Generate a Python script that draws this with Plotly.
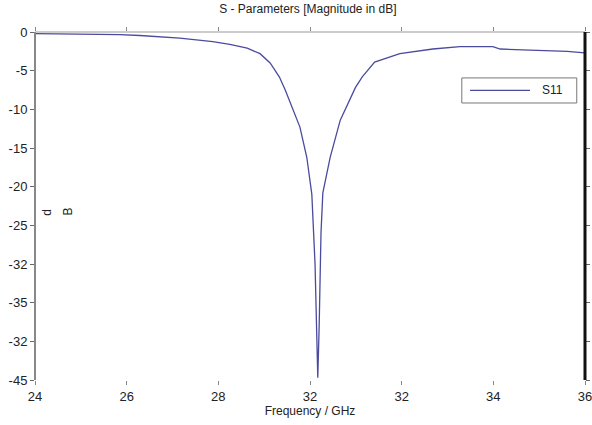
import plotly.graph_objects as go

# Frequency (GHz) and S11 magnitude (dB)
freq_ghz = [24.0, 24.98, 25.85, 26.29, 27.16, 27.88, 28.25, 28.63, 28.91, 29.13,
            29.33, 29.46, 29.78, 29.93, 30.04, 30.11, 30.15, 30.17, 30.20, 30.24,
            30.28, 30.44, 30.66, 30.99, 31.14, 31.41, 31.96, 32.68, 33.27, 33.99,
            34.15, 34.87, 35.61, 36.0]
s11_db = [-0.2, -0.25, -0.35, -0.45, -0.8, -1.25, -1.6, -2.1, -2.8, -4.0,
          -5.8, -7.5, -12.3, -16.2, -21.0, -30.0, -38.0, -44.7, -38.0, -26.0,
          -20.8, -16.2, -11.4, -7.2, -5.8, -3.9, -2.8, -2.2, -1.9, -1.9,
          -2.2, -2.3, -2.5, -2.7]
series_name = "S11"

x_tickvals = [24, 26, 28, 30, 32, 34, 36]
x_ticktext = ["24", "26", "28", "32", "32", "34", "36"]
y_tickvals = [0, -5, -10, -15, -20, -25, -30, -35, -40, -45]
y_ticktext = ["0", "-5", "-10", "-15", "-20", "-25", "-32", "-35", "-32", "-45"]

LINE = "#4b4b9e"
FONT = "Liberation Sans, Arial, sans-serif"

fig = go.Figure()
fig.add_trace(go.Scatter(x=freq_ghz, y=s11_db, mode="lines", name=series_name,
                         line=dict(color=LINE, width=1.3), showlegend=False))

fig.update_layout(
    width=592, height=425,
    margin=dict(l=35, r=7, t=32, b=45, autoexpand=False),
    paper_bgcolor="white", plot_bgcolor="white",
    font=dict(family=FONT, size=12, color="#222"),
    title=dict(text="S - Parameters [Magnitude in dB]", x=0.52, xanchor="center",
               y=0.99, yanchor="top", font=dict(size=12, color="#222")),
    showlegend=False,
    xaxis=dict(range=[24, 36], tickvals=x_tickvals, ticktext=x_ticktext,
               showgrid=False, zeroline=False, showline=False, automargin=False,
               ticks="outside", ticklen=4, tickcolor="#888", mirror="ticks",
               ticklabeloverflow="allow",
               tickfont=dict(size=13, color="#222"),
               title=dict(text="Frequency / GHz", font=dict(size=12, color="#222"),
                          standoff=0)),
    yaxis=dict(range=[-45, 0], tickvals=y_tickvals, ticktext=y_ticktext,
               showgrid=False, zeroline=False, showline=False, automargin=False,
               ticks="outside", ticklen=4, tickcolor="#666", mirror="ticks",
               tickfont=dict(size=13, color="#222")),
    shapes=[
        dict(type="line", xref="paper", yref="paper", x0=0, x1=0, y0=0, y1=1,
             line=dict(color="#888", width=2)),
        dict(type="line", xref="paper", yref="paper", x0=0, x1=1, y0=1, y1=1,
             line=dict(color="#999", width=1)),
        dict(type="line", xref="paper", yref="paper", x0=1, x1=1, y0=0, y1=1,
             line=dict(color="#111", width=3)),
        # legend box
        dict(type="rect", xref="paper", yref="paper", x0=0.776, x1=0.985,
             y0=0.796, y1=0.868, fillcolor="white",
             line=dict(color="#777", width=1)),
        dict(type="line", xref="paper", yref="paper", x0=0.791, x1=0.9,
             y0=0.832, y1=0.832, line=dict(color=LINE, width=1.3)),
    ],
    annotations=[
        dict(text=series_name, xref="paper", yref="paper", x=0.918, y=0.832,
             xanchor="left", yanchor="middle",
             showarrow=False, font=dict(size=12, color="#222")),
        dict(text="d", xref="paper", yref="paper", x=0.005, y=0.483,
             showarrow=False, textangle=-90, font=dict(size=12, color="#222")),
        dict(text="B", xref="paper", yref="paper", x=0.043, y=0.483,
             showarrow=False, textangle=-90, font=dict(size=12, color="#222")),
    ],
)

fig.write_html("out.html", config={"displayModeBar": False},
               post_script="document.body.style.margin='0';document.body.style.overflow='hidden';")
